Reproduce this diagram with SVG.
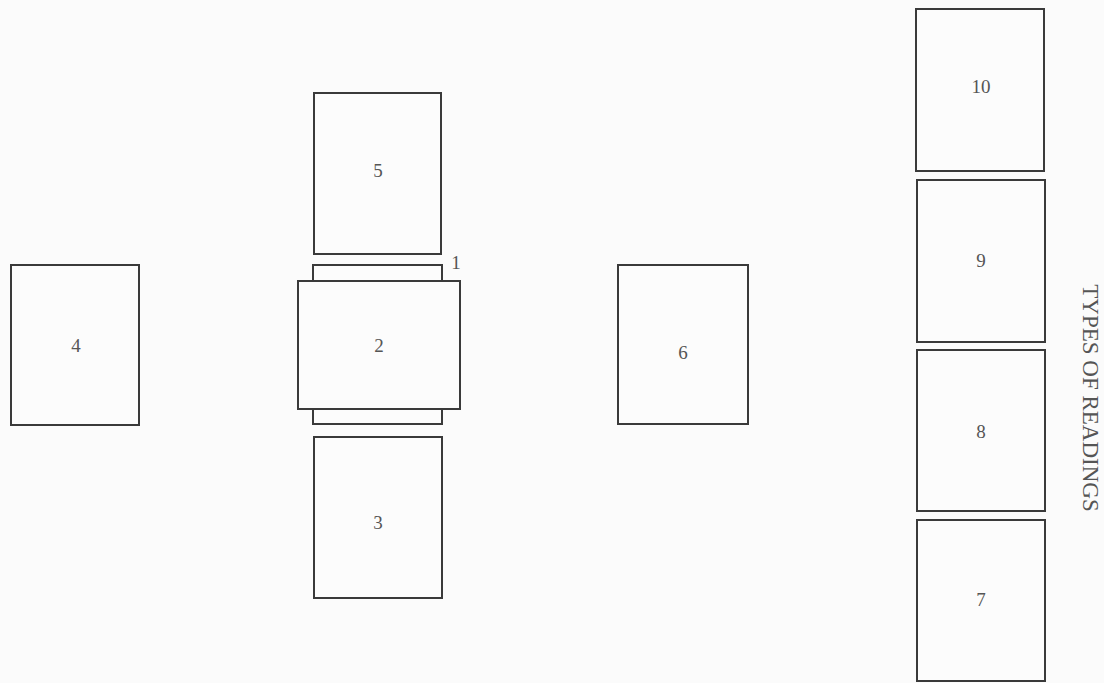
<svg xmlns="http://www.w3.org/2000/svg" width="1104" height="683" viewBox="0 0 1104 683">
<style>
.card{fill:#fcfcfc;stroke:#3a3a3a;stroke-width:2}
.num{font-family:"Liberation Serif",serif;font-size:19px;fill:#555;text-anchor:middle}
.title{font-family:"Liberation Serif",serif;font-size:23px;fill:#555;text-anchor:middle}
</style>
<rect width="1104" height="683" fill="#fbfbfb"/>
<g id="card1"><rect class="card" x="313" y="265" width="129" height="159"/><text class="num" x="456" y="269">1</text></g>
<g id="card2"><rect class="card" x="298" y="281" width="162" height="128"/><text class="num" x="379" y="352">2</text></g>
<g id="card3"><rect class="card" x="314" y="437" width="128" height="161"/><text class="num" x="378" y="529">3</text></g>
<g id="card4"><rect class="card" x="11" y="265" width="128" height="160"/><text class="num" x="76" y="352">4</text></g>
<g id="card5"><rect class="card" x="314" y="93" width="127" height="161"/><text class="num" x="378" y="177">5</text></g>
<g id="card6"><rect class="card" x="618" y="265" width="130" height="159"/><text class="num" x="683" y="359">6</text></g>
<g id="card7"><rect class="card" x="917" y="520" width="128" height="161"/><text class="num" x="981" y="606">7</text></g>
<g id="card8"><rect class="card" x="917" y="350" width="128" height="161"/><text class="num" x="981" y="438">8</text></g>
<g id="card9"><rect class="card" x="917" y="180" width="128" height="162"/><text class="num" x="981" y="267">9</text></g>
<g id="card10"><rect class="card" x="916" y="9" width="128" height="162"/><text class="num" x="981" y="93">10</text></g>
<g id="connectors"></g>
<text class="title" transform="translate(1083,398) rotate(90)">TYPES OF READINGS</text>
</svg>
